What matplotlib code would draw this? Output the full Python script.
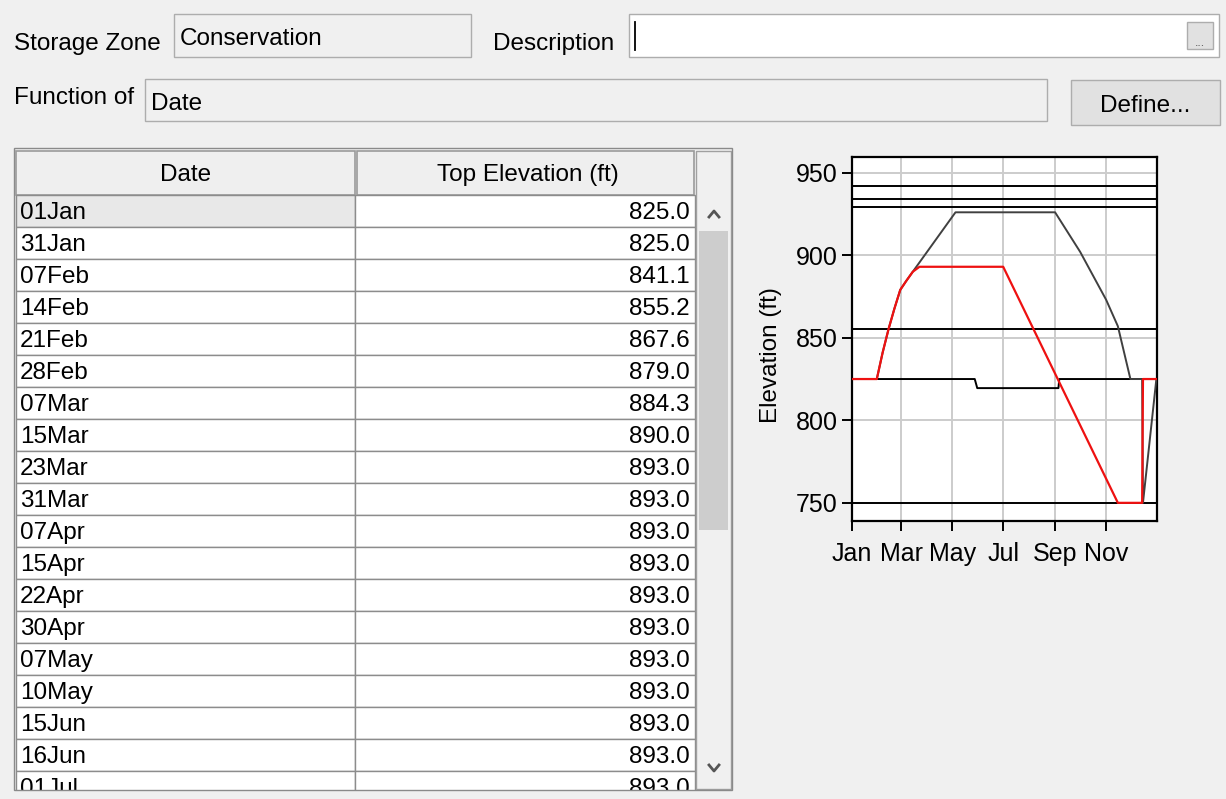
import matplotlib
matplotlib.use("Agg")
import matplotlib.pyplot as plt
from matplotlib.patches import Rectangle
import pandas as pd

plt.rcParams['font.family'] = ['Liberation Sans', 'DejaVu Sans']

# conservation zone top elevation (table rows + red curve)
cons_dates = ["01Jan", "31Jan", "07Feb", "14Feb", "21Feb", "28Feb", "07Mar", "15Mar",
              "23Mar", "31Mar", "07Apr", "15Apr", "22Apr", "30Apr", "07May", "10May",
              "15Jun", "16Jun", "01Jul", "15Nov", "14Dec", "15Dec", "31Dec"]
cons_elev = [825.0, 825.0, 841.1, 855.2, 867.6, 879.0, 884.3, 890.0,
             893.0, 893.0, 893.0, 893.0, 893.0, 893.0, 893.0, 893.0,
             893.0, 893.0, 893.0, 750.0, 750.0, 825.0, 825.0]

# zone above (grey curve)
upper_dates = ["01Jan", "31Jan", "07Feb", "14Feb", "21Feb", "28Feb", "07Mar", "15Mar",
               "05May", "01Sep", "01Oct", "01Nov", "15Nov", "30Nov", "14Dec", "15Dec", "31Dec"]
upper_elev = [825.0, 825.0, 841.1, 855.2, 867.6, 879.0, 884.3, 890.0,
              926.0, 926.0, 902.0, 873.0, 857.0, 825.0, 825.0, 750.0, 825.0]

# zone below (black step line)
lower_dates = ["01Jan", "28May", "31May", "05Sep", "06Sep", "31Dec"]
lower_elev = [825.0, 825.0, 819.5, 819.5, 825.0, 825.0]

# constant zone tops
levels = [942.0, 934.0, 929.5, 855.5, 750.0]

month_ticks = ["01Jan", "01Mar", "01May", "01Jul", "01Sep", "01Nov"]
month_labels = ["Jan", "Mar", "May", "Jul", "Sep", "Nov"]
elev_ticks = [750, 800, 850, 900, 950]

rows_shown = 19
BG = "#f0f0f0"


def to_date(s):
    return pd.to_datetime(s + "2001", format="%d%b%Y")


fig = plt.figure(figsize=(12.26, 7.99), dpi=100, facecolor=BG)

# ---- dialog widgets, drawn in pixel coordinates ----
ui = fig.add_axes([0, 0, 1, 1])
ui.set_xlim(0, 1226)
ui.set_ylim(799, 0)
ui.axis("off")


def box(x0, y0, x1, y1, fc, ec="#adadad", lw=1.0, z=1):
    ui.add_patch(Rectangle((x0, y0), x1 - x0, y1 - y0, facecolor=fc,
                           edgecolor=ec, linewidth=lw, zorder=z))


fs = 17.5
ui.text(14, 50, "Storage Zone", fontsize=fs, va="baseline")
box(174, 14, 471, 57, BG)
ui.text(180, 45, "Conservation", fontsize=fs, va="baseline")
ui.text(493, 50, "Description", fontsize=fs, va="baseline")
box(629, 14, 1219, 57, "white")
ui.plot([635, 635], [22, 50], color="black", lw=1.3)
box(1187, 22, 1213, 49, "#e1e1e1")
ui.text(1200, 46, "...", fontsize=9, color="#555555", ha="center", va="baseline")

ui.text(14, 104, "Function of", fontsize=fs, va="baseline")
box(145, 79, 1047, 121, BG)
ui.text(151, 110, "Date", fontsize=fs, va="baseline")
box(1071, 80, 1220, 125, "#e1e1e1")
ui.text(1145, 112, "Define...", fontsize=fs, ha="center", va="baseline")

# table
box(16, 151, 355, 195, "#efefef", ec="#9a9a9a", lw=1.2)
box(357, 151, 694, 195, "#efefef", ec="#9a9a9a", lw=1.2)
ui.text(186, 181, "Date", fontsize=fs, ha="center", va="baseline")
ui.text(528, 181, "Top Elevation (ft)", fontsize=fs, ha="center", va="baseline")
for k in range(rows_shown):
    y0 = 195 + 32 * k
    box(16, y0, 355, y0 + 32, "#e8e8e8" if k == 0 else "white", ec="#8c8c8c")
    box(355, y0, 695, y0 + 32, "white", ec="#8c8c8c")
    ui.text(20, y0 + 24, cons_dates[k], fontsize=fs, va="baseline")
    ui.text(690, y0 + 24, "%.1f" % cons_elev[k], fontsize=fs, ha="right", va="baseline")

# scrollbar
box(696, 151, 731, 789, BG, ec="#a0a0a0")
box(699, 231, 728, 530, "#cdcdcd", ec="none")
ui.plot([709, 714, 719], [217, 211, 217], color="#555555", lw=2)
ui.plot([709, 714, 719], [765, 771, 765], color="#555555", lw=2)

box(0, 790, 745, 799, BG, ec="none", z=5)
box(14, 148, 732, 790, "none", ec="#8a8a8a", z=6)

# ---- elevation plot ----
ax = fig.add_axes([851.7 / 1226, 1 - 521 / 799, 305.5 / 1226, 364 / 799])
ax.set_facecolor("white")
ax.grid(True, color="#cccccc", lw=1.4, zorder=0)
for lv in levels:
    ax.axhline(lv, color="black", lw=1.4, zorder=2)
ax.plot([to_date(d) for d in lower_dates], lower_elev, color="black", lw=1.4, zorder=3)
ax.plot([to_date(d) for d in upper_dates], upper_elev, color="#404040", lw=1.4, zorder=3)
ax.plot([to_date(d) for d in cons_dates], cons_elev, color="#ee1111", lw=1.6, zorder=4)

ax.set_xlim(to_date("01Jan"), pd.Timestamp("2002-01-01"))
ax.set_ylim(739, 959.5)
ax.set_yticks(elev_ticks)
ax.set_xticks([to_date(d) for d in month_ticks])
ax.set_xticklabels(month_labels)
ax.tick_params(axis="both", labelsize=18, length=7, width=1.4, colors="black")
ax.tick_params(axis="y", pad=3)
ax.tick_params(axis="x", pad=8)
for sp in ax.spines.values():
    sp.set_linewidth(1.6)
    sp.set_color("black")
ui.text(771, 355, "Elevation (ft)", fontsize=17.5, rotation=90, ha="center", va="center")

fig.savefig("out.png", dpi=100, facecolor=BG)
